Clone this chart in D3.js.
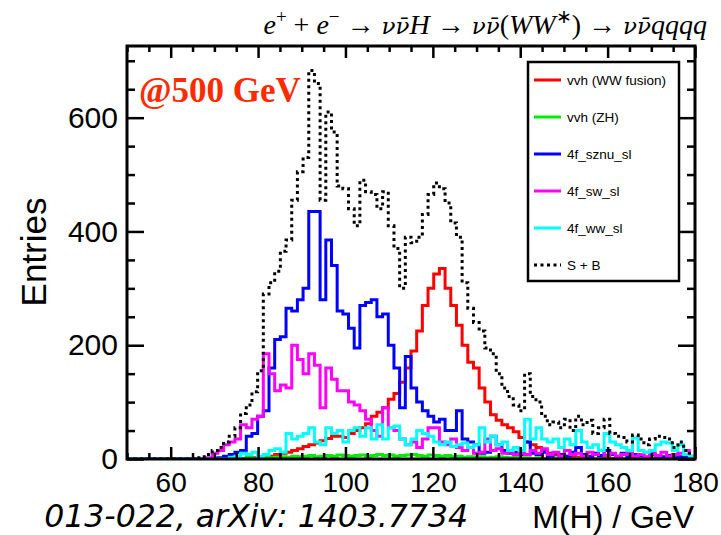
<!DOCTYPE html>
<html>
<head>
<meta charset="utf-8">
<script src="https://cdn.jsdelivr.net/npm/d3@7"></script>
<style>
  body { margin: 0; background: #fff; }
  svg { display: block; }
  .tick text { font-family: "Liberation Sans", Arial, sans-serif; }
</style>
</head>
<body>
<div id="chart"></div>
<script>
// histogram binning: 100 bins from 50 to 180 GeV
var binLow = 50;
var binWidth = 1.3;

var xMajorTicks = [60, 80, 100, 120, 140, 160, 180];
var yMajorTicks = [0, 200, 400, 600];

var seriesNames = ["vvh (WW fusion)", "vvh (ZH)", "4f_sznu_sl", "4f_sw_sl", "4f_ww_sl", "S + B"];

var wwFusion = [
  0, 0, 0, 0, 0, 0, 0, 0, 0, 0,
  0, 0, 0, 0, 0, 0, 0, 0, 0, 0,
  1, 2, 2, 3, 4, 5, 8, 10, 12, 15,
  18, 22, 25, 28, 32, 36, 40, 40, 38, 45,
  50, 55, 62, 75, 82, 90, 105, 115, 135, 160,
  190, 225, 270, 300, 325, 335, 300, 270, 235, 200,
  170, 160, 125, 100, 78, 68, 60, 55, 48, 38,
  30, 25, 20, 14, 10, 8, 6, 5, 4, 3,
  2, 2, 1, 1, 0, 1, 0, 0, 0, 0,
  0, 0, 0, 0, 0, 0, 0, 0, 0, 0
];

var zh = [
  0, 0, 0, 0, 0, 0, 0, 0, 0, 0,
  0, 0, 0, 0, 0, 0, 0, 0, 0, 0,
  1, 2, 1, 2, 3, 2, 3, 4, 3, 5,
  4, 5, 6, 4, 5, 6, 5, 7, 6, 5,
  6, 7, 5, 6, 8, 6, 7, 5, 6, 7,
  8, 6, 5, 7, 6, 5, 6, 4, 5, 3,
  4, 3, 4, 2, 3, 4, 3, 2, 3, 2,
  2, 1, 2, 1, 1, 2, 1, 1, 0, 1,
  0, 0, 1, 0, 0, 0, 0, 0, 0, 0,
  0, 0, 0, 0, 0, 0, 0, 0, 0, 0
];

var sznu = [
  0, 0, 0, 0, 0, 0, 0, 0, 0, 0,
  0, 0, 0, 0, 0, 0, 2, 5, 8, 12,
  15, 40, 45, 75, 85, 160, 210, 215, 265, 260,
  280, 300, 435, 435, 280, 385, 340, 260, 255, 230,
  195, 270, 275, 280, 250, 255, 200, 160, 90, 180,
  125, 100, 85, 75, 65, 70, 50, 50, 85, 35,
  30, 25, 10, 12, 40, 25, 15, 10, 12, 8,
  30, 10, 8, 12, 5, 10, 8, 5, 12, 20,
  8, 5, 10, 6, 15, 8, 5, 10, 4, 8,
  6, 3, 8, 5, 4, 6, 2, 4, 3, 2
];

var sw = [
  0, 0, 0, 0, 0, 0, 0, 0, 0, 0,
  0, 0, 0, 0, 2, 10, 15, 25, 30, 35,
  60, 55, 70, 75, 185, 150, 120, 130, 125, 200,
  175, 150, 185, 165, 90, 160, 140, 120, 120, 100,
  95, 85, 70, 50, 40, 90, 55, 50, 35, 25,
  30, 20, 35, 55, 55, 30, 25, 35, 20, 15,
  20, 10, 12, 35, 15, 18, 10, 12, 8, 10,
  8, 15, 10, 18, 8, 12, 5, 15, 8, 10,
  5, 12, 8, 15, 6, 10, 5, 8, 12, 5,
  8, 4, 10, 6, 12, 5, 8, 10, 15, 5
];

var ww = [
  0, 0, 0, 0, 0, 0, 0, 0, 0, 0,
  0, 0, 0, 0, 0, 0, 0, 0, 3, 5,
  10, 8, 12, 5, 8, 15, 18, 12, 45, 35,
  40, 45, 55, 30, 25, 55, 45, 50, 30, 50,
  55, 40, 55, 35, 60, 35, 55, 58, 35, 25,
  35, 50, 45, 40, 30, 25, 30, 22, 25, 28,
  20, 25, 55, 30, 40, 25, 30, 15, 20, 15,
  70, 35, 55, 35, 30, 35, 20, 35, 25, 50,
  30, 20, 25, 15, 45, 30, 25, 20, 15, 37,
  15, 12, 15, 25, 30, 28, 15, 25, 8, 5
];

var signalPlusBg = [
  0, 0, 0, 0, 0, 0, 0, 0, 0, 0,
  0, 0, 2, 4, 8, 15, 20, 30, 40, 55,
  80, 95, 118, 155, 290, 310, 330, 365, 385, 455,
  505, 530, 683, 660, 455, 610, 575, 480, 475, 440,
  410, 490, 470, 465, 440, 470, 410, 370, 300, 390,
  380, 390, 430, 465, 485, 475, 450, 415, 390, 310,
  265, 240, 225, 195, 185, 150, 125, 110, 95, 85,
  150, 110, 100, 75, 60, 65, 55, 70, 50, 75,
  60, 68, 45, 55, 70, 45, 40, 38, 30, 42,
  35, 25, 35, 40, 38, 35, 20, 30, 15, 10
];

var svgWidth = 721;
var svgHeight = 535;

var margin = {
  top: 46,
  right: 26,
  bottom: 76,
  left: 127
};

var width = svgWidth - margin.left - margin.right;
var height = svgHeight - margin.top - margin.bottom;

var svg = d3.select("#chart")
  .append("svg")
  .attr("width", svgWidth)
  .attr("height", svgHeight);

var chartGroup = svg.append("g")
  .attr("transform", `translate(${margin.left}, ${margin.top})`);

// scales
var xScale = d3.scaleLinear().domain([50, 180]).range([0, width]);
var yScale = d3.scaleLinear().domain([0, 726]).range([height, 0]);

var xMinor = d3.range(50, 181, 5).filter(d => xMajorTicks.indexOf(d) < 0);
var yMinor = d3.range(0, 726, 50).filter(d => yMajorTicks.indexOf(d) < 0);

svg.append("clipPath").attr("id", "plotClip")
  .append("rect").attr("width", width).attr("height", height);

// histograms as step lines
function histPoints(values) {
  var pts = values.map((v, i) => ({ edge: binLow + i * binWidth, v: v }));
  pts.push({ edge: binLow + values.length * binWidth, v: values[values.length - 1] });
  return pts;
}

var stepLine = d3.line()
  .x(d => xScale(d.edge))
  .y(d => yScale(d.v))
  .curve(d3.curveStepAfter);

var seriesList = [
  { values: wwFusion, color: "#ff0000", dash: null },
  { values: zh, color: "#00ee00", dash: null },
  { values: sznu, color: "#0000ff", dash: null },
  { values: sw, color: "#ff00ff", dash: null },
  { values: ww, color: "#00ffff", dash: null },
  { values: signalPlusBg, color: "#000000", dash: "3,3.5" }
];

var plotArea = chartGroup.append("g").attr("clip-path", "url(#plotClip)");

plotArea.selectAll("path.hist")
  .data(seriesList)
  .enter()
  .append("path")
  .attr("class", "hist")
  .attr("d", d => stepLine(histPoints(d.values)))
  .attr("fill", "none")
  .attr("stroke", d => d.color)
  .attr("stroke-width", 3)
  .attr("stroke-dasharray", d => d.dash);

// axes (ticks pointing inwards on all four sides)
function styleAxis(g) {
  g.select(".domain").remove();
  g.selectAll(".tick line").attr("stroke", "#000").attr("stroke-width", 2.5);
  g.selectAll(".tick text").attr("fill", "#000");
}

chartGroup.append("g")
  .attr("transform", `translate(0, ${height})`)
  .call(d3.axisBottom(xScale).tickValues(xMajorTicks).tickSize(-12).tickPadding(13))
  .call(styleAxis)
  .selectAll("text").style("font-size", "28px");

chartGroup.append("g")
  .attr("transform", `translate(0, ${height})`)
  .call(d3.axisBottom(xScale).tickValues(xMinor).tickSize(-6).tickFormat(""))
  .call(styleAxis);

chartGroup.append("g")
  .call(d3.axisTop(xScale).tickValues(xMajorTicks).tickSize(-12).tickFormat(""))
  .call(styleAxis);

chartGroup.append("g")
  .call(d3.axisTop(xScale).tickValues(xMinor).tickSize(-6).tickFormat(""))
  .call(styleAxis);

chartGroup.append("g")
  .call(d3.axisLeft(yScale).tickValues(yMajorTicks).tickSize(-17).tickPadding(9))
  .call(styleAxis)
  .selectAll("text").style("font-size", "30px");

chartGroup.append("g")
  .call(d3.axisLeft(yScale).tickValues(yMinor).tickSize(-8).tickFormat(""))
  .call(styleAxis);

chartGroup.append("g")
  .attr("transform", `translate(${width}, 0)`)
  .call(d3.axisRight(yScale).tickValues(yMajorTicks).tickSize(-17).tickFormat(""))
  .call(styleAxis);

chartGroup.append("g")
  .attr("transform", `translate(${width}, 0)`)
  .call(d3.axisRight(yScale).tickValues(yMinor).tickSize(-8).tickFormat(""))
  .call(styleAxis);

// frame
chartGroup.append("rect")
  .attr("width", width)
  .attr("height", height)
  .attr("fill", "none")
  .attr("stroke", "#000")
  .attr("stroke-width", 3);

// legend
var legend = svg.append("g").attr("transform", "translate(528, 62)");
legend.append("rect")
  .attr("width", 151)
  .attr("height", 219)
  .attr("fill", "#fff")
  .attr("stroke", "#000")
  .attr("stroke-width", 2.5);

var legendRows = legend.selectAll("g.row")
  .data(seriesList)
  .enter()
  .append("g")
  .attr("class", "row")
  .attr("transform", (d, i) => `translate(0, ${18 + i * 37})`);

legendRows.append("line")
  .attr("x1", 6).attr("x2", 33)
  .attr("stroke", d => d.color)
  .attr("stroke-width", 3)
  .attr("stroke-dasharray", d => d.dash);

legendRows.append("text")
  .attr("x", 39)
  .attr("dy", "0.35em")
  .style("font-family", "'Liberation Sans', Arial, sans-serif")
  .style("font-size", "13.5px")
  .text((d, i) => seriesNames[i]);

// energy label
svg.append("text")
  .attr("x", 139)
  .attr("y", 102)
  .attr("fill", "#ff2a00")
  .style("font-family", "'Liberation Serif', 'Times New Roman', serif")
  .style("font-weight", "bold")
  .style("font-size", "35px")
  .text("@500 GeV");

// process title
var titleParts = [
  { t: "e", it: true }, { t: "+", sup: true }, { t: " + " },
  { t: "e", it: true }, { t: "\u2212", sup: true }, { t: " \u2192 " },
  { t: "\u03BD\u03BD\u0304", nu: true }, { t: "H", it: true }, { t: " \u2192 " },
  { t: "\u03BD\u03BD\u0304", nu: true }, { t: "(" }, { t: "WW", it: true },
  { t: "\u2217", sup: true }, { t: ")" }, { t: " \u2192 " },
  { t: "\u03BD\u03BD\u0304", nu: true }, { t: "qqqq", it: true }
];

var title = svg.append("text")
  .attr("x", 707)
  .attr("y", 34)
  .attr("text-anchor", "end")
  .style("font-family", "'Liberation Serif', 'Times New Roman', serif")
  .style("font-size", "28px")
  .attr("xml:space", "preserve");

var raised = false;
titleParts.forEach(function(p) {
  var span = title.append("tspan").text(p.t);
  if (p.it || p.nu) span.style("font-style", "italic");
  if (p.nu) span.style("font-family", "'DejaVu Serif', serif").style("font-size", "23px");
  if (p.sup && !raised) { span.attr("dy", -11); raised = true; }
  if (!p.sup && raised) { span.attr("dy", 11); raised = false; }
  if (p.sup) span.style("font-size", "19px");
});

// axis titles
svg.append("text")
  .attr("transform", "translate(46, 252) rotate(-90)")
  .attr("text-anchor", "middle")
  .style("font-family", "'Liberation Sans', Arial, sans-serif")
  .style("font-size", "35px")
  .text("Entries");

svg.append("text")
  .attr("x", 694)
  .attr("y", 528)
  .attr("text-anchor", "end")
  .style("font-family", "'Liberation Sans', Arial, sans-serif")
  .style("font-size", "32px")
  .text("M(H) / GeV");

svg.append("text")
  .attr("x", 468)
  .attr("y", 527)
  .attr("text-anchor", "end")
  .style("font-family", "'DejaVu Sans', sans-serif")
  .style("font-style", "italic")
  .style("font-size", "31.5px")
  .text("013-022, arXiv: 1403.7734");
</script>
</body>
</html>
